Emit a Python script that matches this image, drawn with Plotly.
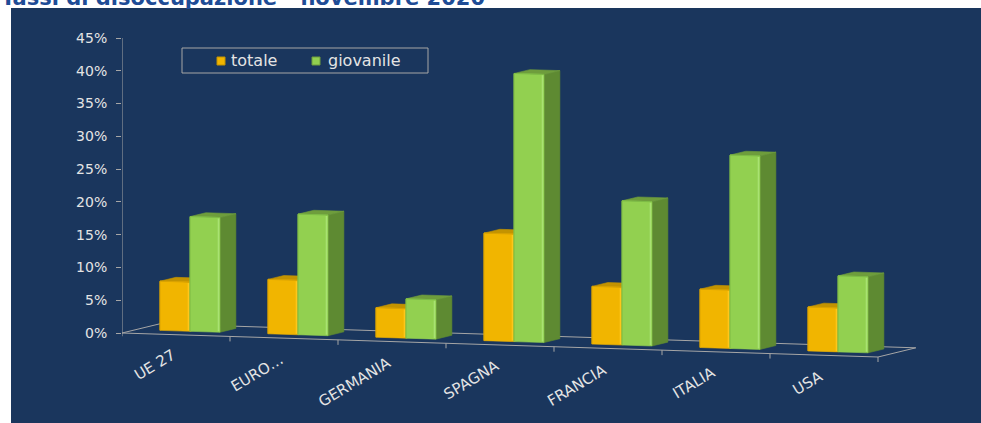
import plotly.graph_objects as go

# ---------------------------------------------------------------- data
paesi = ["UE 27", "EURO…", "GERMANIA", "SPAGNA", "FRANCIA", "ITALIA", "USA"]
totale = [7.5, 8.3, 4.5, 16.4, 8.8, 8.9, 6.7]
giovanile = [17.5, 18.4, 6.0, 40.9, 22.0, 29.5, 11.6]
tick_valori = [0, 5, 10, 15, 20, 25, 30, 35, 40, 45]
tick_etichette = ["0%", "5%", "10%", "15%", "20%", "25%", "30%", "35%", "40%", "45%"]
titolo = "Tassi di disoccupazione - novembre 2020"

# ---------------------------------------------------------------- page layout
W, H = 981, 423
ML, MR, MT, MB = 122, 38, 20, 13
PLOT_W, PLOT_H = W - ML - MR, H - MT - MB
PX_PER_CAT = 108            # horizontal size of one category slot
Y_ZERO_PX, Y_TOP_PX = 333, 38   # where 0% and 45% sit on the page
PX_PER_PCT = (Y_ZERO_PX - Y_TOP_PX) / 45.0

x_range = [0, PLOT_W / PX_PER_CAT]
y_range = [-(H - MB - Y_ZERO_PX) / PX_PER_PCT, 45 + (Y_TOP_PX - MT) / PX_PER_PCT]


def px_x(px):
    return (px - ML) / PLOT_W


def px_y(py):
    return 1 - (py - MT) / PLOT_H


# oblique projection used for the 3-D look
DX, DY = 0.35, 1.4          # full floor depth: shift right (categories) and up (percent)
SLOPE = 0.523               # floor drops this many percent per category
D_FRONT, D_BACK = 0.37, 0.79
BAR_W = 0.278

BG = "#1A365D"
LINE = "#A6A6A6"
TEXT = "#E4E4E4"
FONT = "DejaVu Sans"

serie = [
    ("totale", totale, dict(front="#F1B500", top="#C39300", side="#B88A00",
                            edge="#D9A200", hi="#FFC61A")),
    ("giovanile", giovanile, dict(front="#92D050", top="#6E9D3C", side="#5E8A32",
                                  edge="#7DBB45", hi="#A9E272")),
]


def proj(c, d, v):
    return c + d * DX, v - SLOPE * c + d * DY


def poly(fig, pts, color):
    xs = [p[0] for p in pts] + [pts[0][0]]
    ys = [p[1] for p in pts] + [pts[0][1]]
    fig.add_trace(go.Scatter(x=xs, y=ys, mode="lines", fill="toself",
                             fillcolor=color, line=dict(color=color, width=0.6),
                             hoverinfo="skip", showlegend=False))


def line(fig, pts, color, width=1.0):
    fig.add_trace(go.Scatter(x=[p[0] if p else None for p in pts],
                             y=[p[1] if p else None for p in pts],
                             mode="lines", line=dict(color=color, width=width),
                             hoverinfo="skip", showlegend=False))


fig = go.Figure()

# floor outline
n = len(paesi)
line(fig, [proj(0, 1, 0), proj(n, 1, 0), proj(n, 0, 0), proj(0, 0, 0), proj(0, 1, 0)], LINE)
# category ticks below the front edge
tick_pts = []
for k in range(1, n + 1):
    x, y = proj(k, 0, 0)
    tick_pts += [(x, y), (x, y - 5 / PX_PER_PCT), None]
line(fig, tick_pts, LINE)
# value axis line
line(fig, [(0, -0.5), (0, 45)], LINE)

# bars
for i in range(n):
    for j, (nome, valori, col) in enumerate(serie):
        v = valori[i]
        c0 = i + 0.5 - BAR_W + j * BAR_W
        c1 = c0 + BAR_W
        front = [proj(c0, D_FRONT, 0), proj(c1, D_FRONT, 0), proj(c1, D_FRONT, v), proj(c0, D_FRONT, v)]
        top = [proj(c0, D_FRONT, v), proj(c1, D_FRONT, v), proj(c1, D_BACK, v), proj(c0, D_BACK, v)]
        side = [proj(c1, D_FRONT, 0), proj(c1, D_BACK, 0), proj(c1, D_BACK, v), proj(c1, D_FRONT, v)]
        poly(fig, side, col["side"])
        poly(fig, top, col["top"])
        poly(fig, front, col["front"])
        line(fig, [proj(c0, D_FRONT, 0), proj(c0, D_FRONT, v), proj(c1, D_FRONT, v)], col["edge"], 1)
        line(fig, [proj(c1 - 0.014, D_FRONT, 0.15), proj(c1 - 0.014, D_FRONT, v - 0.15)], col["hi"], 1.6)

annotations = []
shapes = [dict(type="rect", xref="paper", yref="paper", layer="below",
               x0=px_x(11), x1=px_x(W + 2), y0=px_y(H + 2), y1=px_y(8),
               fillcolor=BG, line=dict(width=0))]

# category labels along the sloping front edge
for i, p in enumerate(paesi):
    x, y = proj(i + 0.5, 0, 0)
    annotations.append(dict(x=x, y=y, xref="x", yref="y", text=p, showarrow=False,
                            textangle=-31, xanchor="right", yanchor="top",
                            xshift=5, yshift=-9,
                            font=dict(family=FONT, size=15, color=TEXT)))

# legend box with keys
shapes.append(dict(type="rect", xref="paper", yref="paper",
                   x0=px_x(182), x1=px_x(428), y0=px_y(73), y1=px_y(48),
                   line=dict(color=LINE, width=1), fillcolor="rgba(0,0,0,0)"))
for (nome, valori, col), kx, tx in zip(serie, (217, 312), (229, 326)):
    shapes.append(dict(type="rect", xref="paper", yref="paper",
                       x0=px_x(kx), x1=px_x(kx + 8), y0=px_y(65), y1=px_y(57),
                       fillcolor=col["front"], line=dict(color=col["top"], width=1)))
    annotations.append(dict(x=px_x(tx), y=px_y(60.5), xref="paper", yref="paper",
                            text=nome, showarrow=False, xanchor="left", yanchor="middle",
                            font=dict(family=FONT, size=16, color=TEXT)))

annotations.append(dict(x=px_x(-1), y=px_y(12), xref="paper", yref="paper",
                        text="<b>" + titolo + "</b>", showarrow=False,
                        xanchor="left", yanchor="bottom",
                        font=dict(family=FONT, size=21, color="#1E4C96")))

fig.update_layout(
    width=W, height=H,
    margin=dict(l=ML, r=MR, t=MT, b=MB, pad=0),
    paper_bgcolor="white",
    plot_bgcolor="rgba(0,0,0,0)",
    showlegend=False,
    xaxis=dict(range=x_range, visible=False, fixedrange=True),
    yaxis=dict(range=y_range, tickvals=tick_valori, ticktext=tick_etichette,
               ticks="outside", ticklen=5, tickcolor=LINE, tickwidth=1,
               ticklabelstandoff=6,
               showline=False, showgrid=False, zeroline=False,
               tickfont=dict(family=FONT, size=14, color=TEXT), fixedrange=True),
    shapes=shapes,
    annotations=annotations,
)

fig.write_html("out.html")
